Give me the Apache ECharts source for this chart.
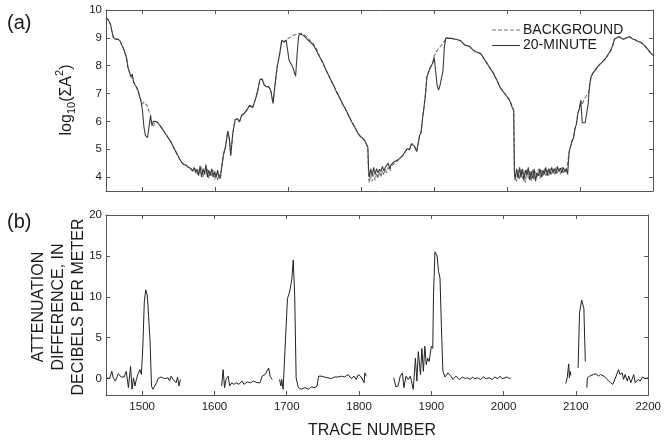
<!DOCTYPE html>
<html>
<head>
<meta charset="utf-8">
<script src="https://cdn.jsdelivr.net/npm/echarts@6/dist/echarts.min.js"></script>
<style>
  html, body { margin: 0; padding: 0; background: #fff; }
  #chart { width: 664px; height: 445px; }
</style>
</head>
<body>
<div id="chart"></div>
<script>
// ---- Panel (a): log10 of summed squared amplitude per trace ----
const topTrace = [
  1450,1453,1456,1458,1460,1463,1466,1469,1472,1475,1478,1480,1482,1484,1486,1488,1490,1492,1494,1496,1498,
  1500,1502,1504,1507,1509,1511,1513,1515,1518,1521,1524,1527,1530,1533,1536,1539,1542,1545,1548,1551,1554,1557,1560,1563,
  1565,1567,1569,1571,1573,1575,1577,1579,1581,1583,1585,1587,1589,1591,1593,1595,1597,1599,1601,1603,1605,1607,1609,
  1611,1614,1617,1619,1621,1624,1627,1630,1633,1636,1640,1644,1647,1651,1655,1658,1661,1664,1667,1670,1673,1676,1679,1681,1683,1685,1688,1691,1694,1697,
  1699,1701,1703,1706,1708,1710,1712,1714,1716,1718,1721,1724,1727,1730,1733,1736,1739,1742,1745,
  1748,1751,1754,1757,1760,1763,1766,1769,1772,1775,1778,1781,1784,1787,1790,1793,1796,1799,1802,1805,1807,1809,
  1810,1811,1813,1815,1817,1819,1821,1823,1825,1827,1829,1831,1833,1835,1837,1839,1841,1843,1845,1847,1849,1851,
  1854,1857,1860,1863,1866,1869,1871,1873,1876,1878,1880,1882,1884,1886,1888,1890,1892,1894,1896,1898,
  1900,1902,1904,1906,1908,1910,1912,1914,1916,
  1918,1921,1924,1927,1930,1933,1936,1939,1942,1945,1948,1951,1954,1957,1960,1963,1966,1969,1972,1975,1978,1981,1984,1987,1990,1993,1996,1999,2002,2005,2007,2009,
  2010,2011,2013,2015,2017,2019,2021,2023,2025,2027,2029,2031,2033,2035,2037,2039,2041,2043,2045,2047,2049,2051,2053,2055,2057,2059,2061,2063,2065,2067,2069,2071,2073,2075,2077,2079,2081,2083,
  2085,2087,2089,2091,2093,2095,2097,2099,2101,
  2103,2105,2107,2109,2111,2113,2115,
  2118,2121,2124,2127,2130,2133,2136,2139,2142,2145,2147,2150,2153,2156,2159,2161,2164,2167,2170,2173,2176,2179,2182,2185,2188,2191,2194,2197,2200
];

const background = [
  9.72,9.65,9.50,9.25,9.02,8.95,8.96,8.90,8.72,8.55,8.30,7.95,8.02,7.65,7.72,7.42,7.30,7.22,7.10,6.92,6.76,
  6.62,6.70,6.66,6.55,6.35,6.22,5.95,5.82,6.00,5.95,5.85,5.74,5.62,5.50,5.38,5.26,5.10,4.95,4.80,4.65,4.52,4.45,4.42,4.35,
  4.35,4.25,4.30,4.20,4.30,4.10,4.25,4.15,4.35,4.00,4.25,4.10,4.30,3.95,4.20,4.05,4.25,3.92,4.15,3.90,4.10,3.95,4.00,
  4.80,5.10,5.65,5.40,4.78,5.60,6.05,6.10,5.98,6.22,6.30,6.45,6.58,6.50,6.80,7.10,7.50,7.52,7.30,7.24,7.25,7.10,6.65,6.60,7.60,8.00,8.40,8.92,8.85,8.92,
  8.88,9.00,9.04,9.08,9.10,9.12,9.14,9.15,9.16,9.16,9.12,9.06,8.98,8.90,8.82,8.72,8.58,8.38,8.22,
  8.06,7.88,7.72,7.56,7.40,7.24,7.06,6.92,6.76,6.60,6.46,6.30,6.14,5.98,5.84,5.70,5.55,5.45,5.40,5.30,5.18,5.08,
  4.00,3.80,4.10,3.85,4.10,3.88,4.15,3.95,4.20,4.00,4.22,4.08,4.30,4.15,4.35,4.22,4.40,4.35,4.48,4.42,4.55,4.55,
  4.70,4.78,4.90,5.02,4.98,5.20,5.26,5.10,4.92,5.20,5.50,5.60,6.10,6.50,6.95,7.60,7.75,7.90,7.85,8.10,
  8.35,8.45,8.55,8.62,8.68,8.75,8.80,8.88,9.00,
  8.98,8.98,8.98,8.96,8.95,8.92,8.90,8.82,8.74,8.72,8.70,8.62,8.55,8.50,8.47,8.45,8.35,8.22,8.10,7.98,7.85,7.74,7.58,7.42,7.24,7.12,7.02,6.92,6.82,6.66,6.50,6.40,
  4.05,4.10,3.85,4.25,3.90,4.30,3.95,4.20,3.80,4.30,3.95,4.25,3.85,4.30,3.90,4.20,4.00,4.30,3.95,4.25,4.00,4.30,4.05,4.25,4.05,4.30,4.10,4.30,4.10,4.35,4.15,4.30,4.10,4.35,4.15,4.30,4.15,4.15,
  4.90,5.10,5.30,5.40,5.74,5.90,6.30,6.45,6.75,
  6.60,6.75,6.85,6.90,7.00,7.20,7.60,
  7.75,7.85,7.96,8.05,8.12,8.20,8.30,8.42,8.55,8.75,8.95,9.00,9.04,9.00,8.95,8.92,9.00,9.04,9.00,8.95,8.92,8.88,8.85,8.80,8.74,8.65,8.55,8.45,8.38
];

const twentyMinute = [
  9.72,9.65,9.50,9.25,9.02,8.95,8.96,8.90,8.72,8.55,8.30,7.95,7.98,7.60,7.70,7.40,7.30,7.22,7.10,6.90,6.72,
  6.40,5.80,5.50,5.42,5.36,6.20,5.85,6.00,6.00,5.95,5.85,5.74,5.62,5.50,5.38,5.26,5.10,4.95,4.80,4.65,4.52,4.45,4.42,4.35,
  4.32,4.30,4.22,4.35,4.15,4.28,4.05,4.40,4.00,4.30,4.10,4.45,4.00,4.25,4.05,4.30,4.00,4.20,3.98,4.25,3.95,4.05,4.00,
  4.80,5.10,5.65,5.40,4.78,5.60,6.05,6.10,5.98,6.22,6.30,6.45,6.58,6.50,6.80,7.10,7.50,7.52,7.30,7.24,7.25,7.10,6.65,6.60,7.60,8.00,8.40,8.92,8.85,8.92,
  8.85,8.20,8.10,7.95,7.90,7.62,8.40,9.05,9.15,9.12,9.08,9.00,8.92,8.85,8.78,8.66,8.52,8.36,8.22,
  8.06,7.88,7.72,7.56,7.40,7.24,7.06,6.92,6.76,6.60,6.46,6.30,6.14,5.98,5.84,5.70,5.55,5.45,5.40,5.30,5.18,5.08,
  4.30,4.00,4.30,4.05,4.35,4.10,4.30,4.15,4.28,4.20,4.38,4.22,4.35,4.30,4.50,4.30,4.45,4.38,4.55,4.48,4.60,4.55,
  4.70,4.78,4.90,5.02,4.98,5.20,5.26,5.10,4.92,5.20,5.50,5.60,6.10,6.50,6.95,7.60,7.75,7.90,7.85,8.10,
  8.30,7.80,7.30,7.12,7.30,7.55,7.80,8.70,9.00,
  8.98,8.98,8.98,8.96,8.95,8.92,8.90,8.82,8.74,8.72,8.70,8.62,8.55,8.50,8.47,8.45,8.35,8.22,8.10,7.98,7.85,7.74,7.58,7.42,7.24,7.12,7.02,6.92,6.82,6.66,6.50,6.40,
  4.20,3.90,4.30,3.95,4.35,4.00,4.30,3.88,4.25,4.05,4.35,3.90,4.20,3.95,4.30,3.85,4.15,4.05,4.30,4.00,4.25,4.10,4.35,4.05,4.30,4.10,4.35,4.15,4.30,4.12,4.38,4.20,4.32,4.15,4.35,4.20,4.30,4.10,
  4.90,5.10,5.30,5.40,5.74,5.90,6.30,6.45,6.75,
  5.95,5.90,5.95,6.00,6.60,7.30,7.60,
  7.75,7.85,7.96,8.05,8.12,8.20,8.30,8.42,8.55,8.75,8.95,9.00,9.04,9.00,8.95,8.92,9.00,9.04,9.00,8.95,8.92,8.88,8.85,8.80,8.74,8.65,8.55,8.45,8.38
];

// ---- Panel (b): attenuation difference, dB per meter; separate runs of traces ----
const attenuationRuns = [
  [[1451,0.1],[1453,0.2],[1455,0.0],[1458,0.9],[1460,0.1],[1463,-0.3],[1467,0.6],[1471,0.2],[1475,0.2],[1478,0.9],
   [1481,-1.1],[1484,1.5],[1486,-1.3],[1488,0.1],[1490,-0.9],[1492,-0.1],[1494,0.5],[1497,1.1],[1499,0.5],[1501,4.1],
   [1503,9.4],[1505,10.85],[1507,10.2],[1508,9.0],[1510,8.8],[1511,4.5],[1513,-0.95],[1515,-1.3],[1517,-1.3],[1520,-0.5],
   [1522,0.0],[1526,0.2],[1531,0.0],[1536,0.1],[1538,-0.3],[1540,0.3],[1543,-0.1],[1545,0.1],[1547,-0.5],[1549,0.2],
   [1551,-0.9],[1553,-0.1]],
  [[1610,-0.9],[1612,1.1],[1614,-1.1],[1616,-0.1],[1619,0.3],[1621,-0.9],[1624,-0.5],[1627,-0.7],[1630,-0.5],[1634,-0.7],
   [1638,-0.3],[1641,-0.7],[1645,-0.4],[1650,-0.5],[1654,-0.3],[1659,-0.5],[1663,-0.5],[1666,0.3],[1670,0.5],[1672,0.3],
   [1675,1.3],[1677,0.3],[1680,-0.1]],
  [[1690,-0.1],[1692,-0.9],[1693,-0.1],[1695,-1.3],[1697,-1.1],[1701,9.8],[1704,10.6],[1707,12.1],[1709,14.5],[1711,10.2],
   [1713,0.1],[1716,-1.1],[1720,-1.3],[1725,-1.1],[1730,-1.3],[1734,-1.0],[1739,-1.1],[1742,-0.9],[1744,0.3],[1748,0.3],
   [1752,0.2],[1757,0.1],[1762,0.0],[1766,0.2],[1771,0.2],[1776,0.3],[1780,0.2],[1785,0.5],[1789,0.0],[1793,0.3],
   [1796,-0.1],[1799,0.5],[1803,0.2],[1807,-0.5],[1808,0.7],[1810,0.3]],
  [[1848,0.1],[1851,-1.0],[1854,-0.9],[1857,0.3],[1860,0.7],[1862,-1.1],[1865,0.3],[1868,-0.1],[1871,0.3],[1875,-1.3],
   [1878,2.5],[1880,-0.3],[1882,3.3],[1885,0.5],[1887,3.7],[1889,0.9],[1891,3.95],[1893,1.7],[1895,2.5],[1897,2.1],
   [1900,3.95],[1902,3.7],[1903,10.2],[1905,15.5],[1908,15.0],[1910,13.1],[1912,12.3],[1914,6.2],[1916,0.9],[1919,0.2],
   [1923,0.7],[1927,0.3],[1930,-0.1],[1934,0.3],[1939,-0.1],[1943,0.2],[1947,0.0],[1950,0.1],[1954,-0.1],[1957,0.2],
   [1960,0.0],[1964,0.1],[1968,-0.1],[1972,0.2],[1976,0.0],[1980,0.1],[1984,-0.1],[1988,0.2],[1992,0.0],[1995,0.3],
   [1998,0.0],[2002,0.1],[2005,0.2],[2008,0.0],[2010,0.1]],
  [[2086,-0.6],[2088,0.1],[2090,1.8],[2091,0.1],[2092,0.9],[2093,0.4]],
  [[2103,1.3],[2105,8.0],[2108,9.6],[2111,8.6],[2113,2.1]],
  [[2115,-1.1],[2116,0.1],[2119,0.3],[2124,0.5],[2128,0.6],[2131,0.3],[2134,0.5],[2139,0.3],[2143,-0.1],[2148,-0.5],
   [2151,-0.7],[2153,-0.3],[2159,1.1],[2161,0.5],[2164,0.7],[2166,-0.1],[2168,0.5],[2171,-0.3],[2173,0.3],[2176,-0.5],
   [2180,0.5],[2182,-0.5],[2186,-0.1],[2189,-0.3],[2192,0.2],[2196,0.0],[2200,0.1]]
];

const legendNames = ['BACKGROUND', '20-MINUTE'];
const panelTags = ['(a)', '(b)'];
const xTitle = 'TRACE NUMBER';
const yTitleB = ['ATTENUATION', 'DIFFERENCE, IN', 'DECIBELS PER METER'];

// ---- build series data ----
const bgData = topTrace.map((t, i) => [t, background[i]]);
const tmData = topTrace.map((t, i) => [t, twentyMinute[i]]);
const attData = [];
attenuationRuns.forEach((run, k) => {
  if (k > 0) attData.push([run[0][0] - 0.5, '-']);
  run.forEach(p => attData.push(p));
});

const FONT = '"Liberation Sans", Arial, Helvetica, sans-serif';
const AXIS = '#555';
const TEXT = '#1a1a1a';

function xAxisDef(grid, pos, labels) {
  return {
    type: 'value', gridIndex: grid, position: pos,
    min: 1450, max: 2200, minInterval: 100, maxInterval: 100,
    axisLine: { show: true, onZero: false, lineStyle: { color: AXIS, width: 1 } },
    axisTick: { show: true, inside: true, length: 4, lineStyle: { color: AXIS } },
    axisLabel: { show: labels, showMinLabel: false, showMaxLabel: true, margin: 6,
                 color: TEXT, fontSize: 11.5, fontFamily: FONT,
                 formatter: v => String(v) },
    splitLine: { show: false }
  };
}
function yAxisDef(grid, pos, min, max, step, labels) {
  return {
    type: 'value', gridIndex: grid, position: pos,
    min: min, max: max, minInterval: step, maxInterval: step,
    axisLine: { show: true, onZero: false, lineStyle: { color: AXIS, width: 1 } },
    axisTick: { show: true, inside: true, length: 4, lineStyle: { color: AXIS } },
    axisLabel: { show: labels, showMinLabel: false, showMaxLabel: true, margin: 4,
                 color: TEXT, fontSize: 11.5, fontFamily: FONT,
                 formatter: v => String(v) },
    splitLine: { show: false }
  };
}

// rotated y-axis title of panel (a): log10(ΣA²) with sub/superscripts
const measureCtx = document.createElement('canvas').getContext('2d');
function textWidth(txt, size) {
  measureCtx.font = size + 'px ' + FONT;
  return measureCtx.measureText(txt).width;
}
const titleParts = [
  { t: 'log', size: 16, dy: 0 },
  { t: '10', size: 11, dy: 4.5 },
  { t: '(ΣA', size: 16, dy: 0 },
  { t: '2', size: 11, dy: -7.5 },
  { t: ')', size: 16, dy: 0 }
];
const titleTotal = titleParts.reduce((s, p) => s + textWidth(p.t, p.size), 0);
let cursor = -titleTotal / 2;
const titleChildren = titleParts.map(p => {
  const el = {
    type: 'text', x: cursor, y: p.dy,
    style: { text: p.t, font: p.size + 'px ' + FONT, fill: TEXT,
             textAlign: 'left', textVerticalAlign: 'middle', verticalAlign: 'middle' }
  };
  cursor += textWidth(p.t, p.size);
  return el;
});

const chart = echarts.init(document.getElementById('chart'), null, { renderer: 'canvas' });
chart.setOption({
  animation: false,
  backgroundColor: '#fff',
  grid: [
    { left: 106, top: 10, width: 547, height: 181 },
    { left: 106, top: 215, width: 547, height: 180 }
  ],
  xAxis: [
    xAxisDef(0, 'bottom', false),
    xAxisDef(0, 'top', false),
    xAxisDef(1, 'bottom', true),
    xAxisDef(1, 'top', false)
  ],
  yAxis: [
    yAxisDef(0, 'left', 3.5, 10, 1, true),
    yAxisDef(0, 'right', 3.5, 10, 1, false),
    yAxisDef(1, 'left', -2, 20, 5, true),
    yAxisDef(1, 'right', -2, 20, 5, false)
  ],
  series: [
    {
      name: legendNames[0], type: 'line', xAxisIndex: 0, yAxisIndex: 0,
      data: bgData, symbol: 'none', silent: true,
      lineStyle: { color: '#747474', width: 1.1, type: [4, 2] }
    },
    {
      name: legendNames[1], type: 'line', xAxisIndex: 0, yAxisIndex: 0,
      data: tmData, symbol: 'none', silent: true,
      lineStyle: { color: '#3c3c3c', width: 1.1 }
    },
    {
      name: 'attenuation', type: 'line', xAxisIndex: 2, yAxisIndex: 2,
      data: attData, symbol: 'none', silent: true, connectNulls: false,
      lineStyle: { color: '#222', width: 1 }
    }
  ],
  graphic: [
    { type: 'text', x: 7, y: 23,
      style: { text: panelTags[0], font: '20px ' + FONT, fill: TEXT, textAlign: 'left', textVerticalAlign: 'middle', verticalAlign: 'middle' } },
    { type: 'text', x: 7, y: 222,
      style: { text: panelTags[1], font: '20px ' + FONT, fill: TEXT, textAlign: 'left', textVerticalAlign: 'middle', verticalAlign: 'middle' } },
    { type: 'group', x: 67, y: 100, rotation: Math.PI / 2, children: titleChildren },
    { type: 'group', x: 58.5, y: 307, rotation: Math.PI / 2,
      children: yTitleB.map((line, i) => ({
        type: 'text', x: 0, y: (i - 1) * 20,
        style: { text: line, font: '16px ' + FONT, fill: TEXT, textAlign: 'center', textVerticalAlign: 'middle', verticalAlign: 'middle' }
      })) },
    { type: 'text', x: 372, y: 431,
      style: { text: xTitle, font: '16px ' + FONT, fill: TEXT, textAlign: 'center', textVerticalAlign: 'middle', verticalAlign: 'middle' } },
    // legend keys
    { type: 'line', shape: { x1: 492, y1: 30, x2: 520, y2: 30 },
      style: { stroke: '#747474', lineWidth: 1.1, lineDash: [4, 2] } },
    { type: 'line', shape: { x1: 492, y1: 45.5, x2: 520, y2: 45.5 },
      style: { stroke: '#3c3c3c', lineWidth: 1.1 } },
    { type: 'text', x: 523, y: 30,
      style: { text: legendNames[0], font: '14px ' + FONT, fill: TEXT, textAlign: 'left', textVerticalAlign: 'middle', verticalAlign: 'middle' } },
    { type: 'text', x: 523, y: 45.5,
      style: { text: legendNames[1], font: '14px ' + FONT, fill: TEXT, textAlign: 'left', textVerticalAlign: 'middle', verticalAlign: 'middle' } }
  ]
});
</script>
</body>
</html>
